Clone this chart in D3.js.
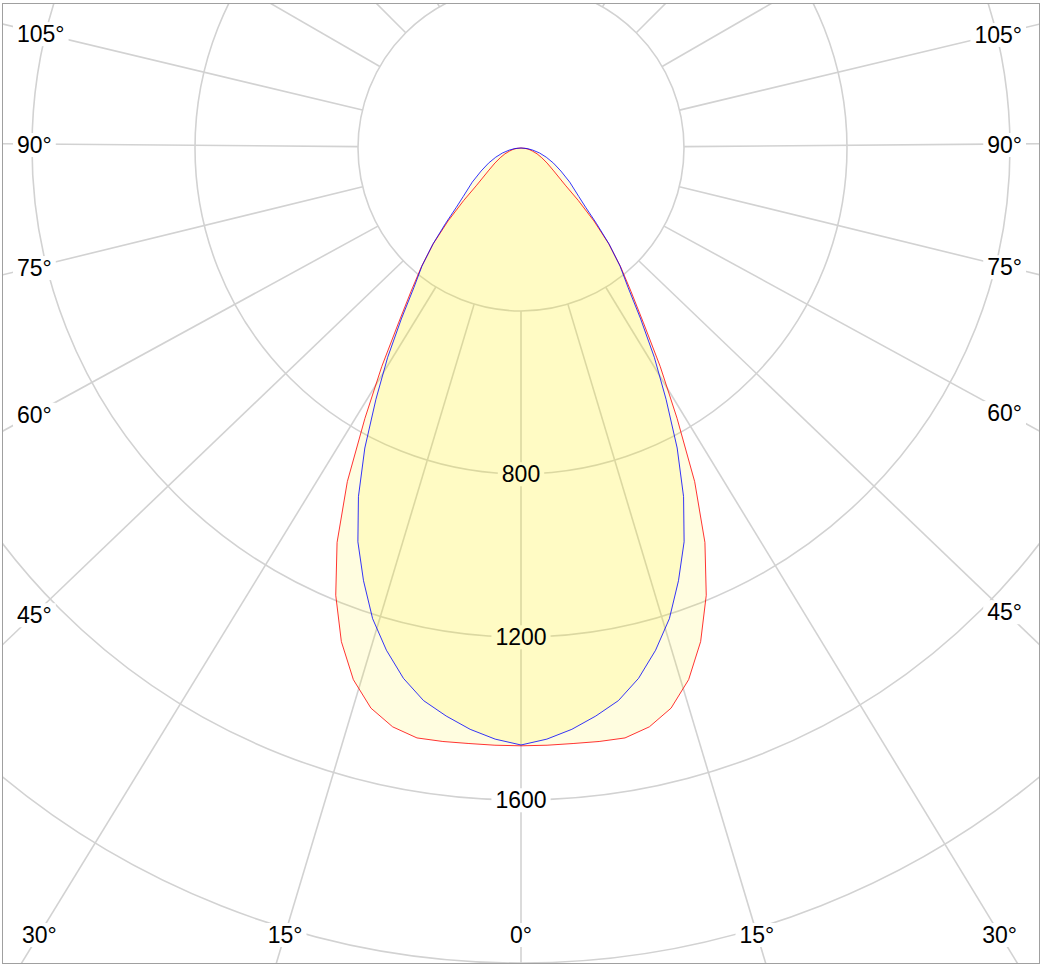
<!DOCTYPE html>
<html>
<head>
<meta charset="utf-8">
<script src="https://cdn.jsdelivr.net/npm/d3@7"></script>
<style>
  html, body { margin: 0; padding: 0; background: #ffffff; }
  svg { display: block; }
  text { font-family: "Liberation Sans", Arial, sans-serif; }
</style>
</head>
<body>
<svg id="chart" width="1045" height="967"></svg>
<script>
// ---- data (luminous intensity values) ----
const gammaAngles = [0, 2.5, 5, 7.5, 10, 12.5, 15, 17.5, 20, 22.5, 25, 27.5, 30, 32.5, 35, 37.5, 40, 42.5, 45, 47.5, 50, 55, 60, 65, 70, 75, 80, 85, 90];
const planeC0C180 = [1467, 1467, 1467, 1469, 1470, 1455, 1423, 1368, 1289, 1188, 1068, 923, 766, 636, 524, 443, 380, 319, 253, 191, 142, 98, 74, 56, 42, 29, 20, 10, 0];
const planeC90C270 = [1465, 1452, 1432, 1406, 1377, 1333, 1276, 1211, 1130, 1046, 944, 830, 712, 609, 512, 432, 378, 320, 262, 215, 185, 146, 113, 88, 66, 47, 29, 15, 0];
const ringValues = [400, 800, 1200, 1600, 2000, 2400];
const ringLabels = [800, 1200, 1600];
const spokeAngles = d3.range(0, 360, 15);
const sideLabelAngles = [45, 60, 75, 90, 105];
const bottomLabelAngles = [0, 15, 30];

// ---- layout ----
const frame = { x: 2.5, y: 3.5, w: 1037, h: 960 };
const cx = 521, cy = 148;
const r = d3.scaleLinear().domain([0, 400]).range([0, 163]);
const fontSize = 23;
const gridColor = "#d2d2d2";

const svg = d3.select("#chart");
svg.append("defs").append("clipPath").attr("id", "frameClip")
  .append("rect").attr("x", frame.x).attr("y", frame.y).attr("width", frame.w).attr("height", frame.h);

const root = svg.append("g").attr("clip-path", "url(#frameClip)");
const gridLayer = root.append("g").attr("transform", `translate(${cx},${cy})`);
const bgLayer = root.append("g");
const fillLayer = root.append("g").attr("transform", `translate(${cx},${cy})`);
const textLayer = root.append("g");
const rad = a => a * Math.PI / 180;

const spokeTargets = {}; // spoke angle -> label centre the spoke runs to

function addLabel(txt, x, y, anchor) {
  const t = textLayer.append("text").attr("x", x).attr("y", y)
    .attr("text-anchor", anchor).attr("font-size", fontSize).attr("fill", "#000").text(txt);
  const b = t.node().getBBox();
  bgLayer.append("rect").attr("x", b.x - 4).attr("y", b.y + 1).attr("width", b.width + 8).attr("height", b.height - 2)
    .attr("fill", "#ffffff");
  return { x: b.x + b.width / 2, y: b.y + b.height / 2 - 1 };
}
function textWidth(txt) {
  const t = svg.append("text").attr("font-size", fontSize).text(txt);
  const w = t.node().getComputedTextLength();
  t.remove();
  return w;
}

// ring value labels along the 0° direction
ringLabels.forEach(v => {
  addLabel(String(v), cx, cy + r(v) + fontSize * 0.36, "middle");
});

// side angle labels: inner corner of the label sits on the ray
const capH = fontSize * 0.716;
sideLabelAngles.forEach(a => {
  const txt = a + "°";
  const w = textWidth(txt);
  [-1, 1].forEach(side => {
    const xOuter = side < 0 ? 17 : 1022;
    const xInner = xOuter - side * w;
    let base;
    if (a === 90) base = cy + 5;
    else if (a < 90) {
      const dx = Math.abs(cx - (xInner + side * 5));
      base = cy + dx / Math.tan(rad(a)) + 1;
    } else {
      const dx = Math.abs(cx - xInner);
      base = cy + dx / Math.tan(rad(a)) + capH;
    }
    const c = addLabel(txt, xOuter, base, side < 0 ? "start" : "end");
    spokeTargets[side < 0 ? 360 - a : a] = c;
  });
});

// bottom angle labels: inner edge at the ray / frame-bottom crossing, kept inside the frame
const frameBottom = frame.y + frame.h, bottomBase = 943;
bottomLabelAngles.forEach(a => {
  const txt = a + "°";
  if (a === 0) { spokeTargets[0] = addLabel(txt, cx, bottomBase, "middle"); return; }
  const w = textWidth(txt);
  const off = (frameBottom - cy) * Math.tan(rad(a));
  const xl = Math.max(cx - off, 22 + w);
  const xr = Math.min(cx + off, 1017 - w);
  spokeTargets[360 - a] = addLabel(txt, xl, bottomBase, "end");
  spokeTargets[a] = addLabel(txt, xr, bottomBase, "start");
});

// grid rings
gridLayer.append("g").selectAll("circle").data(ringValues).join("circle")
  .attr("r", d => r(d)).attr("fill", "none")
  .attr("stroke", gridColor).attr("stroke-width", 1.6);

// spokes from the 400 ring outward; labelled spokes run towards their label
const spokeDir = d => {
  const t = spokeTargets[d];
  if (t) return Math.atan2(t.x - cx, t.y - cy);
  return rad(d);
};
gridLayer.append("g").selectAll("line").data(spokeAngles).join("line")
  .attr("x1", d => r(400) * Math.sin(spokeDir(d)))
  .attr("y1", d => r(400) * Math.cos(spokeDir(d)))
  .attr("x2", d => r(3000) * Math.sin(spokeDir(d)))
  .attr("y2", d => r(3000) * Math.cos(spokeDir(d)))
  .attr("stroke", gridColor).attr("stroke-width", 1.6);

// photometric curves (left half = mirrored plane)
function closedPoints(vals) {
  const pts = [];
  for (let i = gammaAngles.length - 1; i >= 0; i--) pts.push({ a: Math.PI + rad(gammaAngles[i]), v: vals[i] });
  for (let i = 1; i < gammaAngles.length; i++) pts.push({ a: Math.PI - rad(gammaAngles[i]), v: vals[i] });
  return pts;
}
const line = d3.lineRadial().angle(d => d.a).radius(d => r(d.v)).curve(d3.curveLinearClosed);

const series = [
  { vals: planeC0C180, stroke: "#ff0000" },
  { vals: planeC90C270, stroke: "#0000ff" }
];
series.forEach(s => {
  fillLayer.append("path").attr("d", line(closedPoints(s.vals)))
    .attr("fill", "rgb(255,238,0)").attr("fill-opacity", 0.12).attr("stroke", "none");
});
series.forEach(s => {
  fillLayer.append("path").attr("d", line(closedPoints(s.vals)))
    .attr("fill", "none").attr("stroke", s.stroke).attr("stroke-width", 0.8);
});

// frame
svg.append("rect").attr("x", frame.x).attr("y", frame.y).attr("width", frame.w).attr("height", frame.h)
  .attr("fill", "none").attr("stroke", "#a0a0a0").attr("stroke-width", 1);
</script>
</body>
</html>
